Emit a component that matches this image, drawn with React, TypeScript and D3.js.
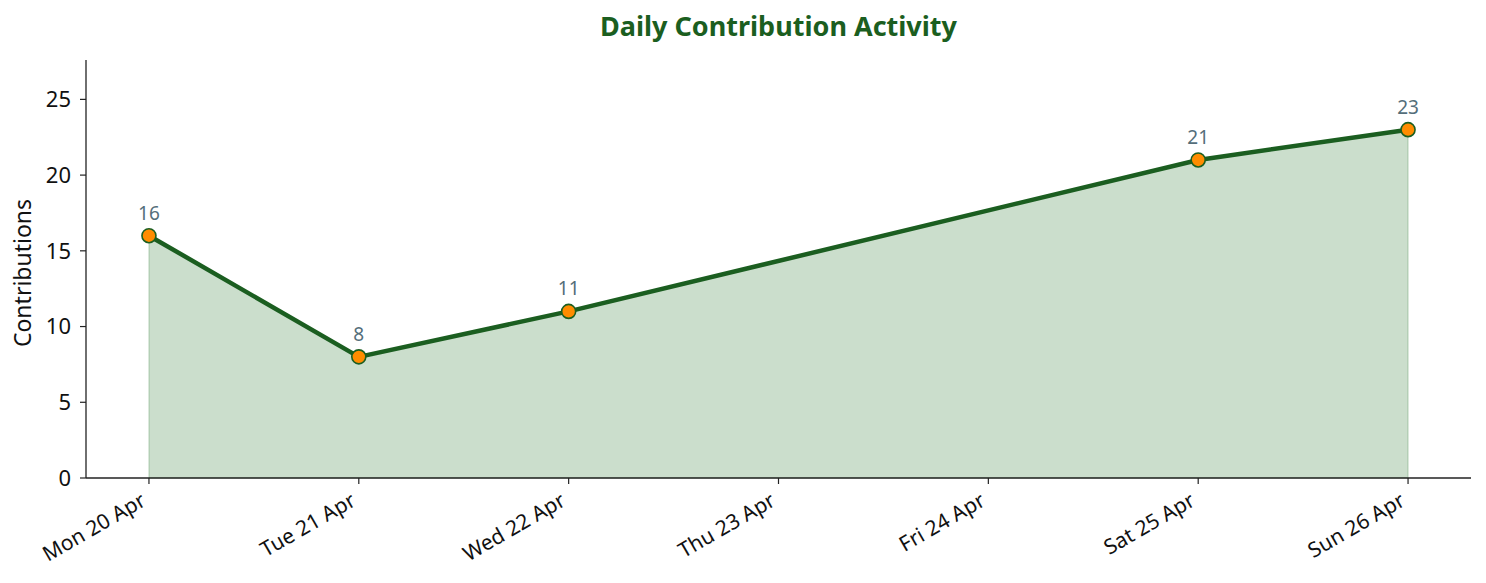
import { useEffect } from 'react'
import * as d3 from 'd3'

const days = ['2026-04-20', '2026-04-21', '2026-04-22', '2026-04-25', '2026-04-26']
const contributions = [16, 8, 11, 21, 23]
const tickDays = ['2026-04-20', '2026-04-21', '2026-04-22', '2026-04-23', '2026-04-24', '2026-04-25', '2026-04-26']
const yTicks = [0, 5, 10, 15, 20, 25]

const width = 1486
const height = 583
const margin = { top: 60, right: 15, bottom: 105, left: 86 }
const font = '"Noto Sans", "Open Sans", sans-serif'

const parse = d3.timeParse('%Y-%m-%d')
const fmt = d3.timeFormat('%a %d %b')
const DAY = 86400000

export default function App() {
  useEffect(() => {
    document.body.style.margin = '0'
  }, [])

  const points = days.map((d, i) => ({ date: parse(d) as Date, value: contributions[i] }))
  const ticks = tickDays.map(d => parse(d) as Date)

  const first = ticks[0].getTime()
  const last = ticks[ticks.length - 1].getTime()
  const x = d3.scaleTime()
    .domain([new Date(first - 0.3 * DAY), new Date(last + 0.3 * DAY)])
    .range([margin.left, width - margin.right])
  const y = d3.scaleLinear()
    .domain([0, d3.max(contributions)! * 1.2])
    .range([height - margin.bottom, margin.top])

  const line = d3.line<typeof points[0]>().x(d => x(d.date)).y(d => y(d.value))
  const area = d3.area<typeof points[0]>().x(d => x(d.date)).y0(y(0)).y1(d => y(d.value))

  const y0 = y(0)

  return (
    <svg width={width} height={height} style={{ display: 'block', fontFamily: font }}>
      <text x={(margin.left + width - margin.right) / 2} y={36} textAnchor="middle"
        fontSize={27} fontWeight="bold" fill="#1b5e20">Daily Contribution Activity</text>

      <path d={area(points)!} fill="#2e7d32" fillOpacity={0.25} stroke="#2e7d32" strokeOpacity={0.2} strokeWidth={1.5} />
      <path d={line(points)!} fill="none" stroke="#1b5e20" strokeWidth={4.5} strokeLinejoin="round" />

      {points.map((p, i) => (
        <g key={i}>
          <circle cx={x(p.date)} cy={y(p.value)} r={7} fill="#ff8c00" stroke="#1b5e20" strokeWidth={1.6} />
          <text x={x(p.date)} y={y(p.value) - 16} textAnchor="middle" fontSize={19} fill="#546e7a">{p.value}</text>
        </g>
      ))}

      {/* spines */}
      <line x1={margin.left} x2={margin.left} y1={margin.top} y2={y0} stroke="#222" strokeWidth={1.3} />
      <line x1={margin.left} x2={width - margin.right} y1={y0} y2={y0} stroke="#222" strokeWidth={1.3} />

      {yTicks.map(t => (
        <g key={t}>
          <line x1={margin.left - 6} x2={margin.left} y1={y(t)} y2={y(t)} stroke="#222" strokeWidth={1.2} />
          <text x={margin.left - 15} y={y(t)} dy="0.35em" textAnchor="end" fontSize={22} fill="#111">{t}</text>
        </g>
      ))}

      {ticks.map((t, i) => (
        <g key={i}>
          <line x1={x(t)} x2={x(t)} y1={y0} y2={y0 + 6} stroke="#222" strokeWidth={1.2} />
          <text transform={`translate(${x(t) - 9},${y0 + 14}) rotate(-30)`} textAnchor="end" dy="0.7em"
            fontSize={21} fill="#111">{fmt(t)}</text>
        </g>
      ))}

      <text transform={`translate(31,${(margin.top + y0) / 2 + 4}) rotate(-90)`} textAnchor="middle"
        fontSize={23} fill="#111">Contributions</text>
    </svg>
  )
}
